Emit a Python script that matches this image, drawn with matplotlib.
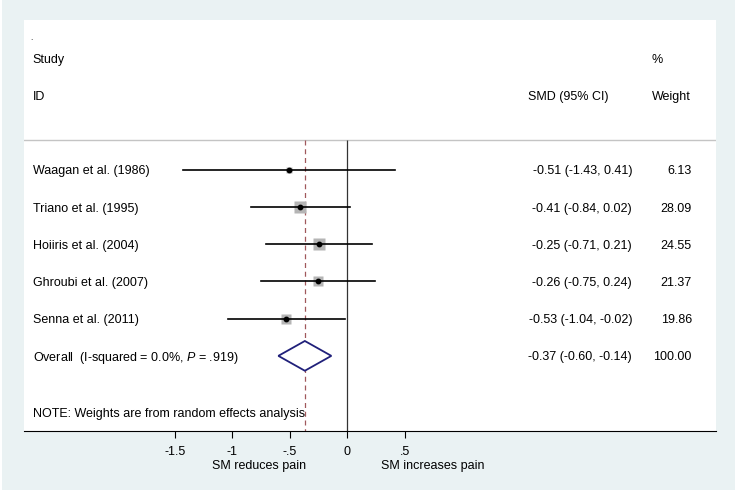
import matplotlib.pyplot as plt
import numpy as np
from matplotlib.patches import Rectangle

plt.rcParams['font.family'] = 'Liberation Sans'
plt.rcParams['mathtext.fontset'] = 'custom'
plt.rcParams['mathtext.rm'] = 'Liberation Sans'
plt.rcParams['mathtext.it'] = 'Liberation Sans:italic'

# data
studies = ["Waagan et al. (1986)", "Triano et al. (1995)", "Hoiiris et al. (2004)",
           "Ghroubi et al. (2007)", "Senna et al. (2011)"]
smd = [-0.51, -0.41, -0.25, -0.26, -0.53]
lower = [-1.43, -0.84, -0.71, -0.75, -1.04]
upper = [0.41, 0.02, 0.21, 0.24, -0.02]
weight = [6.13, 28.09, 24.55, 21.37, 19.86]
overall_est, overall_lo, overall_hi = -0.37, -0.60, -0.14
overall_label = "Overall  (I-squared = 0.0%, $P$ = .919)"
ticks = [-1.5, -1, -0.5, 0, 0.5]
tick_labels = ["-1.5", "-1", "-.5", "0", ".5"]

bg = '#eaf2f3'
fig = plt.figure(figsize=(7.35, 4.93), dpi=100, facecolor='white')
fig.patches.append(Rectangle((2/735, 3/493), 1, 1, transform=fig.transFigure,
                             facecolor=bg, edgecolor='none', zorder=-10))
ax = fig.add_axes([24/735, 1 - 431/493, (716 - 24)/735, (431 - 20)/493])
ax.set_facecolor('white')
ax.set_xlim(-2.808, 3.199)
y_bottom, y_top = 8.02, -3.03
ax.set_ylim(y_bottom, y_top)
for s in ['top', 'left', 'right']:
    ax.spines[s].set_visible(False)
ax.spines['bottom'].set_linewidth(0.8)

rows = np.arange(1, len(studies) + 1)
overall_row = len(studies) + 1
header_row = 0.2
fs = 9

# header
ax.axhline(header_row, color='#c4c4c4', lw=1)
ax.text(-2.75, -2.5, ".", fontsize=6, va='baseline')
ax.text(-2.733, -2, "Study", fontsize=fs, va='center_baseline')
ax.text(-2.733, -1, "ID", fontsize=fs, va='center_baseline')
ax.text(1.571, -1, "SMD (95% CI)", fontsize=fs, va='center_baseline')
ax.text(2.643, -2, "%", fontsize=fs, va='center_baseline')
ax.text(2.643, -1, "Weight", fontsize=fs, va='center_baseline')

# reference lines
ax.vlines(0, header_row, y_bottom, color='#333333', lw=0.9)
ax.vlines(overall_est, header_row, y_bottom, color='#a0585c', lw=0.9,
          linestyles=(0, (4, 3)))

# studies
for i in range(len(studies)):
    ax.plot(smd[i], rows[i], marker='s', ms=1.63*np.sqrt(weight[i]),
            color='#b5b5b5', mec='none', zorder=2)
    ax.plot([lower[i], upper[i]], [rows[i], rows[i]], color='black', lw=1.2, zorder=3)
    ax.plot(smd[i], rows[i], marker='o', ms=3.2, color='black', zorder=4)
    ax.text(-2.733, rows[i], studies[i], fontsize=fs, va='center_baseline')
    ax.text(2.47, rows[i], f"{smd[i]:.2f} ({lower[i]:.2f}, {upper[i]:.2f})",
            fontsize=fs, va='center_baseline', ha='right')
    ax.text(2.99, rows[i], f"{weight[i]:.2f}", fontsize=fs, va='center_baseline', ha='right')

# overall diamond
ax.fill([overall_lo, overall_est, overall_hi, overall_est],
        [overall_row, overall_row - 0.4, overall_row, overall_row + 0.4],
        facecolor='white', edgecolor='#20207a', lw=1.3, zorder=4)
ax.text(-2.733, overall_row, overall_label, fontsize=fs, va='center_baseline')
ax.text(2.47, overall_row, f"{overall_est:.2f} ({overall_lo:.2f}, {overall_hi:.2f})",
        fontsize=fs, va='center_baseline', ha='right')
ax.text(2.99, overall_row, f"{sum(weight):.2f}", fontsize=fs, va='center_baseline', ha='right')

ax.text(-2.733, 7.53, "NOTE: Weights are from random effects analysis",
        fontsize=fs, va='center_baseline')

# x axis
ax.set_yticks([])
ax.set_xticks(ticks)
ax.set_xticklabels(tick_labels, fontsize=fs)
ax.tick_params(axis='x', direction='out', length=5, width=0.8, pad=5.5)
ax.annotate("SM reduces pain", xy=(-0.77, 0), xycoords=('data', 'axes fraction'),
            xytext=(0, -27), textcoords='offset points', ha='center', va='baseline', fontsize=fs)
ax.annotate("SM increases pain", xy=(0.74, 0), xycoords=('data', 'axes fraction'),
            xytext=(0, -27), textcoords='offset points', ha='center', va='baseline', fontsize=fs)

plt.savefig("out.png", dpi=100)
